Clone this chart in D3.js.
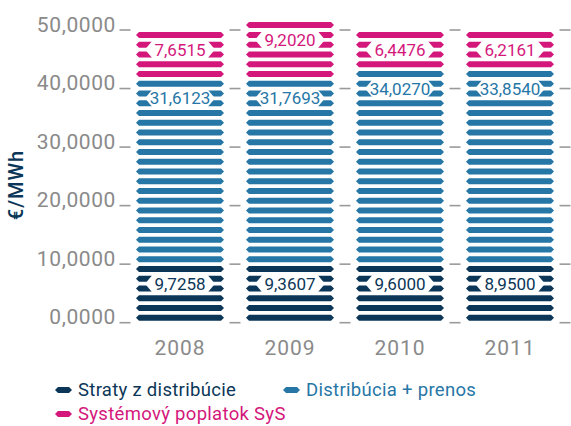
<!DOCTYPE html>
<html>
<head>
<meta charset="utf-8">
<script src="https://cdn.jsdelivr.net/npm/d3@7"></script>
<style>
  body { margin: 0; background: #fff; }
  svg { display: block; font-family: Roboto, "DejaVu Sans", sans-serif; }
</style>
</head>
<body>
<svg id="chart" width="571" height="426"></svg>
<script>
// data
const years = ["2008", "2009", "2010", "2011"];
const straty = [9.7258, 9.3607, 9.6000, 8.9500];
const distribucia = [31.6123, 31.7693, 34.0270, 33.8540];
const sys = [7.6515, 9.2020, 6.4476, 6.2161];
const seriesNames = ["Straty z distribúcie", "Distribúcia + prenos", "Systémový poplatok SyS"];
const yTicks = [0, 10, 20, 30, 40, 50];

const colors = ["#0b3657", "#2676a6", "#d4177b"];
const stripeStep = 50 / 30;   // one stripe in value units on the axis
const stripeUnit = 1.75;      // value each pictogram stripe stands for

const svg = d3.select("#chart");
const y = d3.scaleLinear().domain([0, 50]).range([322.7, 30]);
const x = d3.scaleBand().domain(years).range([125, 565]).paddingInner(0.2).paddingOuter(0.1);
const fmt = v => d3.format(".4f")(v).replace(".", ",");

function hex(x0, x1, cy, h, tip) {
	return `M${x0},${cy}L${x0 + tip},${cy - h / 2}L${x1 - tip},${cy - h / 2}L${x1},${cy}L${x1 - tip},${cy + h / 2}L${x0 + tip},${cy + h / 2}Z`;
}

// grid dashes in the gaps
const gaps = years.map(d => x(d) - x.step() * x.paddingInner() / 2).concat([x(years[3]) + x.bandwidth() + 11]);
yTicks.forEach(t => {
	gaps.forEach(gx => {
		svg.append("line")
			.attr("x1", gx - 5.5).attr("x2", gx + 5.5)
			.attr("y1", y(t)).attr("y2", y(t))
			.attr("stroke", "#9a9a9a").attr("stroke-width", 1.6);
	});
});

// y labels
const yAxis = svg.append("g")
	.attr("transform", "translate(116,0)")
	.call(d3.axisLeft(y).tickValues(yTicks).tickSize(0).tickPadding(0).tickFormat(fmt));
yAxis.select(".domain").remove();
yAxis.selectAll("text")
	.attr("dy", null).attr("y", 1)
	.style("font-family", "Roboto, sans-serif")
	.style("font-size", "21px")
	.style("letter-spacing", "0.6px")
	.attr("fill", "#8a8a8a");

svg.append("text")
	.attr("transform", "translate(23,185) rotate(-90)")
	.attr("text-anchor", "middle")
	.attr("fill", "#0b3657")
	.style("font-size", "20px")
	.style("font-weight", "500")
	.style("letter-spacing", "1px")
	.text("€/MWh");

// bars of stripes
years.forEach((yr, i) => {
	const vals = [straty[i], distribucia[i], sys[i]];
	const x0 = x(yr), x1 = x(yr) + x.bandwidth();
	const g = svg.append("g");
	let start = 0;
	vals.forEach((v, s) => {
		const n = Math.ceil(v / stripeUnit);
		const idx = d3.range(start, start + n);
		g.selectAll(null).data(idx).enter().append("path")
			.attr("d", k => hex(x0, x1, y((k + 0.5) * stripeStep), 6, 3))
			.attr("fill", colors[s]);
		// label over the 2nd and 3rd stripes from the top
		const top = start + n - 1;
		const cy = y((top - 1) * stripeStep);
		g.append("path")
			.attr("d", hex(x0 + 9, x1 - 9, cy, 19, 8))
			.attr("fill", "#fff");
		g.append("text")
			.attr("x", (x0 + x1) / 2).attr("y", cy)
			.attr("text-anchor", "middle")
			.attr("dominant-baseline", "central")
			.attr("fill", colors[s])
			.style("font-size", "17px")
			.text(fmt(v));
		start += n;
	});
	svg.append("text")
		.attr("x", (x0 + x1) / 2).attr("y", 355)
		.attr("text-anchor", "middle")
		.attr("fill", "#8a8a8a")
		.style("font-size", "21px")
		.style("letter-spacing", "1px")
		.text(yr);
});

// legend
const legendPos = [[55, 390], [283, 390], [55, 414]];
seriesNames.forEach((name, s) => {
	const [lx, ly] = legendPos[s];
	svg.append("path").attr("d", hex(lx, lx + 17, ly, 6, 3)).attr("fill", colors[s]);
	svg.append("text")
		.attr("x", lx + 23).attr("y", ly)
		.attr("dominant-baseline", "central")
		.attr("fill", colors[s])
		.style("font-size", "18.5px")
		.style("letter-spacing", "0.3px")
		.text(name);
});
</script>
</body>
</html>
